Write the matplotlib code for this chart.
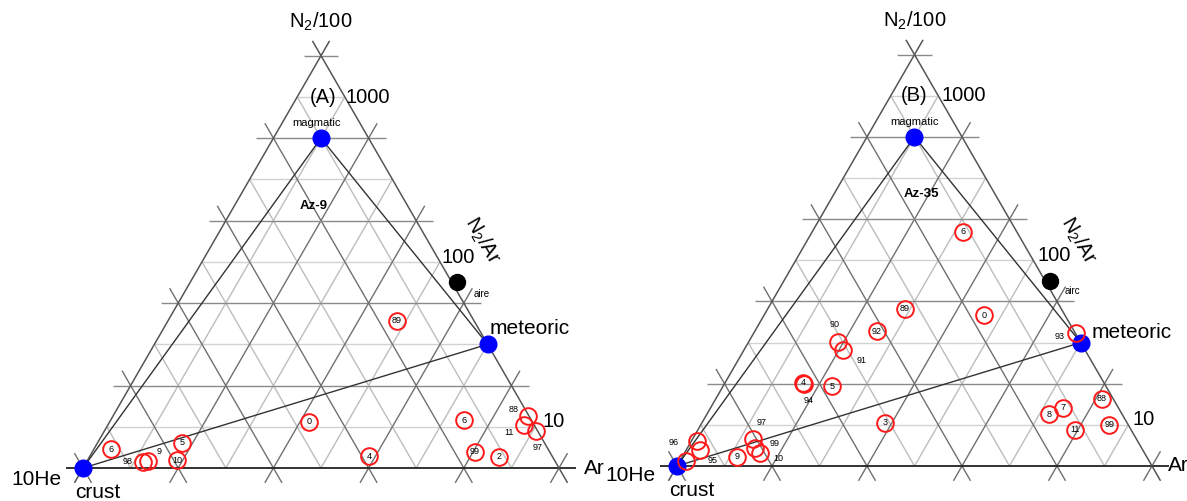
import numpy as np
import matplotlib.pyplot as plt

plt.rcParams['font.family'] = ['Liberation Sans', 'DejaVu Sans']
plt.rcParams['mathtext.default'] = 'regular'

S = np.sqrt(3) / 2

# end members, in % of N2/100 and Ar (10He is the rest)
end_n2 = [0, 80, 30]     # crust, magmatic, meteoric
end_ar = [0, 10, 70]
air_n2 = 45
air_ar = 56

# panel (A) Az-9
lab_a = ['89', '0', '6', '4', '99', '2', '88', '11', '97', '6', '5', '10', '98', '9']
n2_a = [35.7, 11.2, 11.6, 2.9, 3.9, 2.7, 12.6, 10.4, 9.0, 4.6, 6.1, 1.9, 1.5, 1.7]
ar_a = [48.1, 41.9, 74.2, 58.6, 80.4, 86.1, 87.2, 87.4, 90.7, 3.6, 17.8, 18.8, 11.9, 12.8]

# panel (B) Az-35
lab_b = ['89', '0', '92', '90', '91', '4', '94', '5', '3', '93', '8', '7', '88', '11',
         '99', '6', '96', '', '95', '9', '97', '99', '10']
n2_b = [38.2, 36.7, 32.8, 30.1, 28.2, 20.2, 20.0, 19.4, 10.5, 32.3, 12.6, 14.1, 16.3, 8.8,
        10.0, 56.9, 6.1, 3.9, 1.2, 2.2, 6.6, 4.4, 3.2]
ar_b = [28.9, 46.3, 25.7, 18.8, 20.9, 16.4, 16.7, 22.9, 38.6, 67.8, 72.0, 74.2, 81.3, 79.4,
        86.0, 31.8, 1.2, 2.9, 1.3, 11.5, 12.7, 14.2, 15.9]

# labels written beside the circle (offset in pixels, y down), by index
out_a = {6: (-14, -7), 7: (-15, 7), 8: (1, 17), 12: (-16, 0), 13: (11, -9)}
out_b = {3: (-3, -18), 4: (18, 11), 6: (5, 17), 9: (-16, 3), 16: (-24, 2), 17: None,
         18: (27, -1), 20: (9, -16), 21: (20, -4), 22: (18, 6)}


def tern(n, a):
    n = np.asarray(n, dtype=float) / 100
    a = np.asarray(a, dtype=float) / 100
    return a + n / 2, n * S


def grid(ax):
    e = 0.036
    dirs = [np.array([1, 0]), np.array([0.5, S]), np.array([-0.5, S])]
    for lev in [1, 2, 0]:
        for k in range(11):
            if (k == 0) != (lev == 0):
                continue
            if k > 0 and (k % 2 == 0) != (lev == 2):
                continue
            f = k / 10
            segs = [((f / 2, f * S), (1 - f / 2, f * S)),
                    ((f, 0), (f + (1 - f) / 2, (1 - f) * S)),
                    ((1 - f, 0), ((1 - f) / 2, (1 - f) * S))]
            for (p, q), d in zip(segs, dirs):
                p = np.array(p)
                q = np.array(q)
                if k % 2 == 0:
                    p = p - e * d
                    q = q + e * d
                if lev == 0:
                    col, lw = ('#222222', 1.3) if d[1] == 0 else ('#555555', 1.1)
                elif lev == 2:
                    col, lw = ('#8a8a8a', 1.0) if d[1] == 0 else ('#707070', 1.0)
                else:
                    col, lw = ('#d2d2d2', 1.0) if d[1] == 0 else ('#bdbdbd', 1.0)
                ax.plot([p[0], q[0]], [p[1], q[1]], color=col, lw=lw, zorder=1,
                        solid_capstyle='butt')


def panel(ax, labs, n2, ar, outside, letter, name, tx):
    grid(ax)
    ex, ey = tern(end_n2, end_ar)
    # mixing lines
    for i, j in [(0, 1), (1, 2), (0, 2)]:
        ax.plot([ex[i], ex[j]], [ey[i], ey[j]], color='#333333', lw=1.0, zorder=2)
    ax.plot(ex, ey, 'o', color='#0000ff', ms=12, zorder=4)
    axx, axy = tern(air_n2, air_ar)
    ax.plot(axx, axy, 'o', color='black', ms=11.5, zorder=4)

    x, y = tern(n2, ar)
    ax.plot(x, y, 'o', mfc='none', mec='#ff1a1a', ms=12, mew=1.4, zorder=5)
    for i, lab in enumerate(labs):
        if i in outside:
            if outside[i] is None:
                continue
            dx, dy = outside[i]
            ax.annotate(lab, (x[i], y[i]), xytext=(dx * 0.72, -dy * 0.72),
                        textcoords='offset points', fontsize=6.5, ha='center', va='center',
                        zorder=6)
        else:
            ax.text(x[i], y[i], lab, fontsize=6.5, ha='center', va='center', zorder=6)

    ax.text(0.5, 0.937, 'N$_2$/100', fontsize=14.5, ha='center', va='center')
    ax.text(tx['let'], 0.779, letter, fontsize=14.5, ha='center', va='center')
    ax.text(tx['k1000'], 0.779, '1000', fontsize=14.5, ha='left', va='center')
    ax.text(tx['k100'], 0.443, '100', fontsize=14.5, ha='left', va='center')
    ax.text(tx['k10'], 0.098, '10', fontsize=14.5, ha='left', va='center')
    ax.text(tx['mag'], 0.725, 'magmatic', fontsize=8, ha='center', va='center')
    ax.text(tx['name'][0], tx['name'][1], name, fontsize=9.5, fontweight='bold',
            ha='center', va='center')
    ax.text(tx['ratio'][0], tx['ratio'][1], 'N$_2$/Ar', fontsize=14.5, ha='center',
            va='center', rotation=-60)
    ax.text(tx['air'][0], tx['air'][1], tx['air'][2], fontsize=7, ha='center', va='center')
    ax.text(tx['met'][0], tx['met'][1], 'meteoric', fontsize=15, ha='left', va='center')
    ax.text(-0.045, tx['he'], '10He', fontsize=15, ha='right', va='center')
    ax.text(0.03, -0.052, 'crust', fontsize=15, ha='center', va='center')
    ax.text(tx['ar'], 0.0, 'Ar', fontsize=15, ha='left', va='center')
    ax.axis('off')


fig = plt.figure(figsize=(11.87, 5.01), dpi=100)
ax_a = fig.add_axes([0, 0, 0.5, 1])
ax_b = fig.add_axes([0.5, 0, 0.5, 1])

panel(ax_a, lab_a, n2_a, ar_a, out_a, '(A)', 'Az-9',
      {'let': 0.504, 'k1000': 0.552, 'k100': 0.754, 'k10': 0.966, 'mag': 0.49,
       'name': (0.485, 0.55), 'ratio': (0.838, 0.479), 'air': (0.838, 0.366, 'aire'),
       'met': (0.855, 0.292), 'he': -0.025, 'ar': 1.053})
ax_a.set_xlim(-0.1744, 1.0725)
ax_a.set_ylim(-0.0693, 0.983)

panel(ax_b, lab_b, n2_b, ar_b, out_b, '(B)', 'Az-35',
      {'let': 0.5, 'k1000': 0.556, 'k100': 0.76, 'k10': 0.96, 'mag': 0.5,
       'name': (0.514, 0.573), 'ratio': (0.844, 0.476), 'air': (0.832, 0.368, 'airc'),
       'met': (0.872, 0.28), 'he': -0.019, 'ar': 1.033})
ax_b.set_xlim(-0.1758, 1.0737)
ax_b.set_ylim(-0.0737, 0.981)

fig.savefig('out.png', dpi=100)
